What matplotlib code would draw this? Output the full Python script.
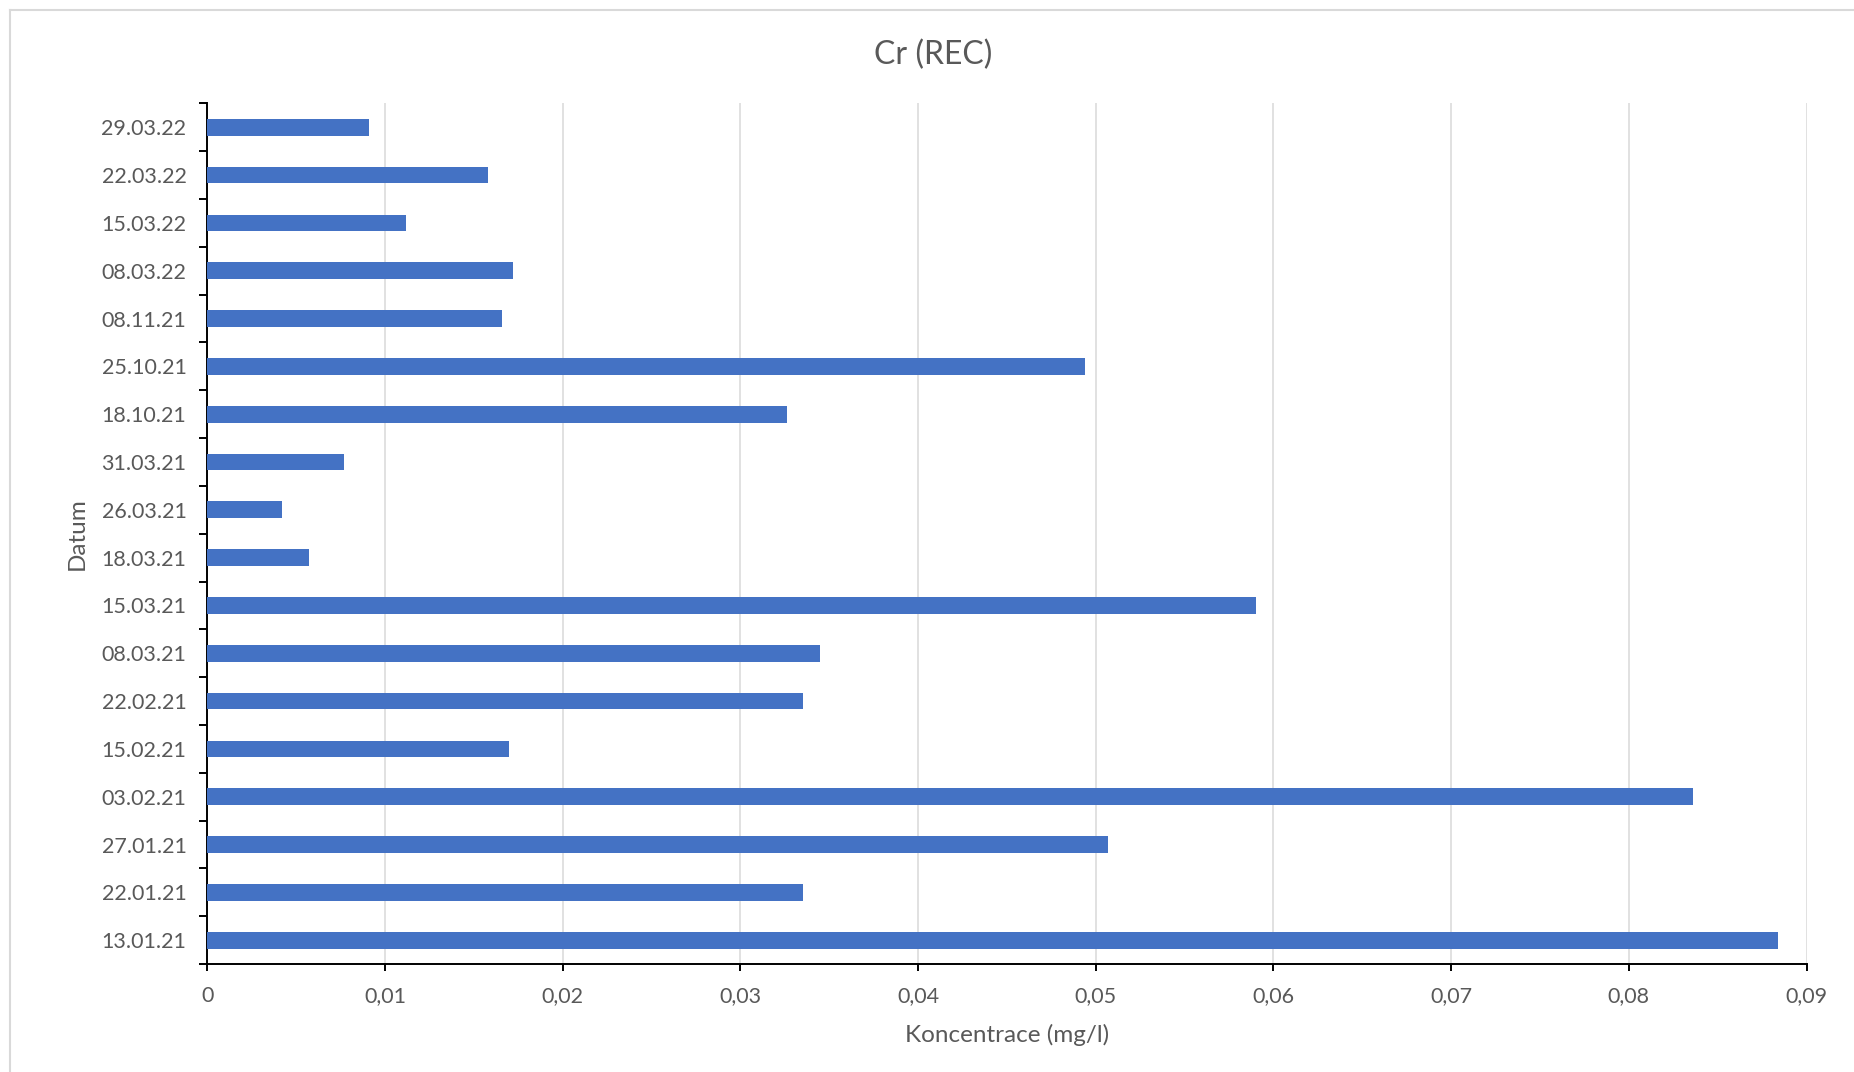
import matplotlib.pyplot as plt
from matplotlib.ticker import FixedLocator, FuncFormatter
from matplotlib.lines import Line2D

plt.rcParams['font.family'] = ['Lato', 'DejaVu Sans']

# dates from bottom to top, as in the chart
dates = ['13.01.21', '22.01.21', '27.01.21', '03.02.21', '15.02.21', '22.02.21',
         '08.03.21', '15.03.21', '18.03.21', '26.03.21', '31.03.21', '18.10.21',
         '25.10.21', '08.11.21', '08.03.22', '15.03.22', '22.03.22', '29.03.22']
cr_values = [0.0884, 0.0335, 0.0507, 0.0836, 0.0170, 0.0335,
             0.0345, 0.0590, 0.0057, 0.0042, 0.0077, 0.0326,
             0.0494, 0.0166, 0.0172, 0.0112, 0.0158, 0.0091]
x_ticks = [0, 0.01, 0.02, 0.03, 0.04, 0.05, 0.06, 0.07, 0.08, 0.09]

text_col = '#595959'
grid_col = '#D9D9D9'
bar_col = '#4472C4'

fig = plt.figure(figsize=(18.54, 10.72), dpi=100)
ax = fig.add_axes([0.1118, 0.1007, 0.8626, 0.8029])

pos = list(range(len(dates)))
ax.barh(pos, cr_values, height=0.35, color=bar_col, zorder=3)

ax.set_xlim(0, 0.09)
ax.set_ylim(-0.5, len(dates) - 0.5)
ax.set_xticks(x_ticks)
ax.xaxis.set_major_formatter(FuncFormatter(lambda v, p: '0' if v == 0 else f'{v:.2f}'.replace('.', ',')))
ax.set_yticks(pos)
ax.set_yticklabels(dates)
ax.yaxis.set_minor_locator(FixedLocator([p - 0.5 for p in pos] + [len(dates) - 0.5]))

ax.grid(axis='x', color=grid_col, linewidth=1.1, zorder=0)
ax.set_axisbelow(True)
for s in ['top', 'right']:
    ax.spines[s].set_visible(False)
for s in ['left', 'bottom']:
    ax.spines[s].set_linewidth(1.4)
    ax.spines[s].set_color('black')

ax.tick_params(axis='y', which='major', length=0, pad=15, labelsize=15.5, labelcolor=text_col)
ax.tick_params(axis='y', which='minor', length=6, width=1.4, color='black', direction='out')
ax.tick_params(axis='x', which='major', length=5, width=1.4, color='black', direction='out',
               pad=11, labelsize=15.5, labelcolor=text_col)

ax.set_xlabel('Koncentrace (mg/l)', fontsize=17.5, color=text_col, va='center')
ax.xaxis.set_label_coords(0.5, -0.0825)
ax.set_ylabel('Datum', fontsize=17.5, color=text_col, va='center')
ax.yaxis.set_label_coords(-0.0815, 0.5)

fig.text(933 / 1854, 1 - 55 / 1072, 'Cr (REC)', fontsize=23, color=text_col,
         ha='center', va='center')

# chart area border (only top and left visible in the crop)
fig.add_artist(Line2D([10 / 1854, 1], [1 - 10 / 1072, 1 - 10 / 1072], color=grid_col, linewidth=1.5))
fig.add_artist(Line2D([10 / 1854, 10 / 1854], [0, 1 - 10 / 1072], color=grid_col, linewidth=1.5))

fig.savefig('out.png', dpi=100)
